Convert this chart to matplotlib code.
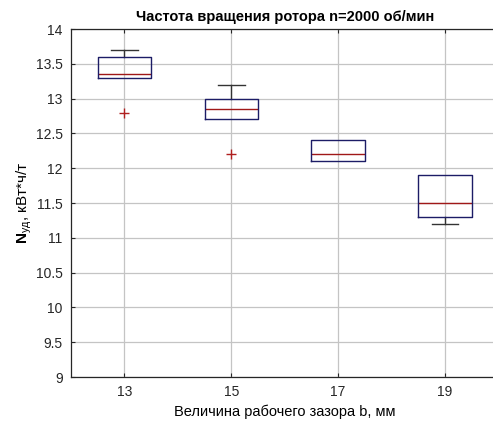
import matplotlib.pyplot as plt

plt.rcParams['font.family'] = ['Liberation Sans', 'DejaVu Sans']
plt.rcParams['mathtext.fontset'] = 'custom'
plt.rcParams['mathtext.rm'] = 'Liberation Sans'
plt.rcParams['mathtext.bf'] = 'Liberation Sans:bold'

# gap width, mm
gaps = ['13', '15', '17', '19']

# boxplot statistics, kWh/t
q1 = [13.3, 12.7, 12.1, 11.3]
med = [13.35, 12.85, 12.2, 11.5]
q3 = [13.6, 13.0, 12.4, 11.9]
wlo = [13.3, 12.7, 12.1, 11.2]
whi = [13.7, 13.2, 12.4, 11.9]
fliers = [[12.8], [12.2], [], []]

stats = []
for i, g in enumerate(gaps):
    stats.append(dict(label=g, med=med[i], q1=q1[i], q3=q3[i],
                      whislo=wlo[i], whishi=whi[i], fliers=fliers[i]))

fig = plt.figure(figsize=(4.93, 4.23), dpi=100)
ax = fig.add_axes([71 / 493, 46 / 423, 427.5 / 493, 348 / 423])

ax.grid(True, color='#c4c4c4', linewidth=0.9)
ax.set_axisbelow(True)

bp = ax.bxp(stats, widths=0.5, capwidths=0.25,
            boxprops=dict(color='#1c1c66', linewidth=1.0),
            medianprops=dict(color='#a01818', linewidth=1.0),
            whiskerprops=dict(color='#333333', linewidth=1.0, linestyle='-'),
            capprops=dict(color='#333333', linewidth=1.0),
            flierprops=dict(marker='+', markeredgecolor='#b02020', markersize=7,
                            markeredgewidth=1.0, linestyle='none'))

# whiskers that end on the box edge are hidden behind the box
for i in range(len(gaps)):
    if wlo[i] == q1[i]:
        bp['caps'][2 * i].set_visible(False)
    if whi[i] == q3[i]:
        bp['caps'][2 * i + 1].set_visible(False)
for b in bp['boxes']:
    b.set_zorder(3)

ax.set_xlim(0.5, 4.5)
ax.set_ylim(9, 14)
ax.set_yticks([9, 9.5, 10, 10.5, 11, 11.5, 12, 12.5, 13, 13.5, 14])
ax.set_yticklabels(['9', '9.5', '10', '10.5', '11', '11.5', '12', '12.5', '13', '13.5', '14'])
ax.tick_params(direction='in', top=True, right=True, length=3,
               labelsize=10, colors='#262626', pad=6)
for s in ax.spines.values():
    s.set_color('#262626')
    s.set_linewidth(0.9)

ax.set_title('Частота вращения ротора n=2000 об/мин', fontsize=10.5,
             fontweight='bold', pad=6)
ax.set_xlabel('Величина рабочего зазора b, мм', fontsize=10.5, labelpad=4)
ax.set_ylabel(r'$\mathbf{N}_{\mathregular{уд}}$, кВт*ч/т', fontsize=11, labelpad=1)

fig.savefig('out.png', dpi=100)
